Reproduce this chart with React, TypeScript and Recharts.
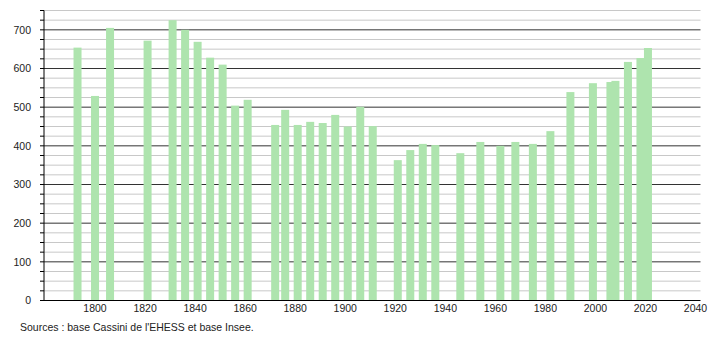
import { BarChart, Bar, XAxis, YAxis, CartesianGrid } from 'recharts'

const years = [
  1793, 1800, 1806, 1821, 1831, 1836, 1841, 1846, 1851, 1856, 1861, 1872, 1876, 1881, 1886, 1891, 1896, 1901,
  1906, 1911, 1921, 1926, 1931, 1936, 1946, 1954, 1962, 1968, 1975, 1982, 1990, 1999, 2006, 2008, 2013, 2018,
  2021,
]
const population = [
  654, 529, 705, 672, 725, 700, 669, 628, 610, 504, 519, 454, 493, 454, 462, 459, 480, 450, 501, 451, 363, 389,
  405, 402, 381, 410, 400, 410, 405, 438, 539, 562, 565, 568, 617, 627, 653,
]
const xTicks = [1800, 1820, 1840, 1860, 1880, 1900, 1920, 1940, 1960, 1980, 2000, 2020, 2040]
const yTicks = Array.from({ length: 31 }, (_, i) => i * 25)
const minorLines = yTicks.filter((v) => v % 100 !== 0)
const majorLines = yTicks.filter((v) => v % 100 === 0 && v > 0)
const source = "Sources : base Cassini de l'EHESS et base Insee."

const data = years.map((year, i) => ({ year, pop: population[i] }))

const font = "'Liberation Sans', Arial, sans-serif"

// bars are wider than the gap between close census years, so draw them at a fixed width
const WideBar = (p: any) => {
  const cx = p.x + p.width / 2
  return <rect x={cx - 4} y={p.y} width={8} height={p.height} fill="#aee4ae" />
}

export default function App() {
  return (
    <div style={{ position: 'absolute', left: 0, top: 0, width: 710, height: 340, background: '#fff' }}>
      <BarChart
        width={710}
        height={340}
        data={data}
        margin={{ top: 10.5, right: 9.5, left: 0, bottom: 20 }}
        style={{ fontFamily: font }}
      >
        <CartesianGrid vertical={false} horizontalValues={minorLines} stroke="#c8c8c8" />
        <CartesianGrid vertical={false} horizontalValues={majorLines} stroke="#333" />
        <XAxis
          dataKey="year"
          type="number"
          domain={[1779.6, 2042]}
          ticks={xTicks}
          interval={0}
          tickLine={false}
          tickSize={0}
          tickMargin={4}
          height={19.5}
          axisLine={{ stroke: '#000' }}
          tick={{ fontSize: 10.5, fill: '#222' }}
        />
        <YAxis
          type="number"
          domain={[0, 750]}
          ticks={yTicks}
          interval={0}
          width={44}
          tickSize={4}
          tickMargin={9}
          axisLine={{ stroke: '#000' }}
          tickLine={{ stroke: '#000' }}
          tickFormatter={(v: number) => (v % 100 === 0 ? String(v) : '')}
          tick={{ fontSize: 10.5, fill: '#222' }}
        />
        <Bar dataKey="pop" fill="#aee4ae" shape={WideBar} isAnimationActive={false} />
      </BarChart>
      <div
        style={{
          position: 'absolute',
          left: 20,
          top: 321,
          fontFamily: font,
          fontSize: 10.5,
          color: '#222',
          whiteSpace: 'nowrap',
        }}
      >
        {source}
      </div>
    </div>
  )
}
